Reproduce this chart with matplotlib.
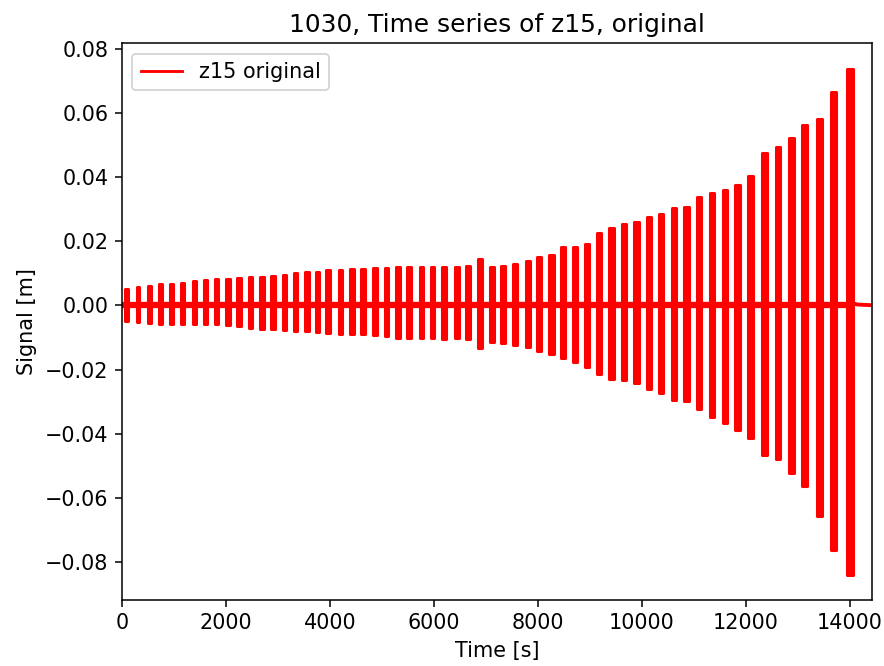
import numpy as np
import matplotlib
matplotlib.use("Agg")
import matplotlib.pyplot as plt
from matplotlib.lines import Line2D

# Burst centre times [s]
burst_time = [83, 308, 533, 744, 948, 1173, 1398, 1610, 1813, 2038,
              2250, 2475, 2692, 2904, 3129, 3340, 3558, 3756, 3967, 4206,
              4429, 4640, 4865, 5090, 5313, 5525, 5763, 5975, 6198, 6437,
              6660, 6885, 7110, 7333, 7558, 7813, 8025, 8263, 8487, 8712,
              8948, 9179, 9417, 9654, 9898, 10140, 10371, 10615, 10860, 11102,
              11352, 11596, 11840, 12096, 12365, 12621, 12879, 13135, 13410, 13692,
              14013]

# Burst positive peaks [m]
burst_max = [0.0052, 0.0059, 0.0062, 0.0067, 0.0067, 0.0071, 0.0075, 0.0080, 0.0082, 0.0083,
             0.0085, 0.0088, 0.0090, 0.0093, 0.0096, 0.0100, 0.0103, 0.0103, 0.0109, 0.0111,
             0.0114, 0.0114, 0.0117, 0.0117, 0.0121, 0.0119, 0.0119, 0.0121, 0.0119, 0.0121,
             0.0124, 0.0145, 0.0121, 0.0124, 0.0130, 0.0138, 0.0150, 0.0158, 0.0183, 0.0183,
             0.0193, 0.0227, 0.0241, 0.0255, 0.0259, 0.0277, 0.0285, 0.0303, 0.0307, 0.0339,
             0.0352, 0.0359, 0.0376, 0.0404, 0.0476, 0.0494, 0.0521, 0.0562, 0.0580, 0.0666,
             0.0738]

# Burst negative peaks [m]
burst_min = [-0.0047, -0.0052, -0.0055, -0.0057, -0.0057, -0.0059, -0.0059, -0.0057, -0.0059, -0.0062,
             -0.0065, -0.0069, -0.0072, -0.0074, -0.0075, -0.0078, -0.0078, -0.0083, -0.0086, -0.0088,
             -0.0090, -0.0090, -0.0093, -0.0096, -0.0100, -0.0100, -0.0100, -0.0100, -0.0103, -0.0100,
             -0.0103, -0.0131, -0.0114, -0.0117, -0.0124, -0.0130, -0.0142, -0.0150, -0.0165, -0.0175,
             -0.0192, -0.0212, -0.0228, -0.0233, -0.0241, -0.0259, -0.0272, -0.0295, -0.0297, -0.0324,
             -0.0347, -0.0367, -0.0388, -0.0414, -0.0466, -0.0479, -0.0521, -0.0562, -0.0657, -0.0761,
             -0.0839]

t_end = 14420
tail_time = [14080, 14150, 14250, 14420]
tail_val = [0.0006, 0.0003, 0.0002, 0.0001]

title = "1030, Time series of z15, original"
xlabel = "Time [s]"
ylabel = "Signal [m]"
label = "z15 original"

plt.rcParams["font.size"] = 10.8

fig = plt.figure(figsize=(884 / 138, 666 / 138), dpi=138)
ax = fig.add_subplot(111)
fig.subplots_adjust(left=0.138, right=0.986, top=0.935, bottom=0.099)

bt = np.array(burst_time, dtype=float)
bmax = np.array(burst_max)
bmin = np.array(burst_min)
widths = np.interp(bt, [0, 13700, 14013], [55, 95, 115])

# baseline residual oscillation band
ax.plot([0, bt[-1]], [0, 0], color="red", lw=3.3, solid_capstyle="butt", zorder=2)
ax.plot([bt[-1]] + tail_time, [0] + tail_val, color="red", lw=2.0, zorder=2)

ax.bar(bt, bmax - bmin, bottom=bmin, width=widths, color="red",
       edgecolor="red", linewidth=1.6, joinstyle="round", zorder=3)

ax.set_xlim(0, t_end)
ax.set_title(title, fontsize=13)
ax.set_xlabel(xlabel)
ax.set_ylabel(ylabel)
ax.set_yticks([-0.08, -0.06, -0.04, -0.02, 0.0, 0.02, 0.04, 0.06, 0.08])
ax.set_ylim(-0.0918, 0.0817)

handle = Line2D([], [], color="red", lw=1.5)
ax.legend([handle], [label], loc="upper left")

fig.savefig("out.png", dpi=138)
